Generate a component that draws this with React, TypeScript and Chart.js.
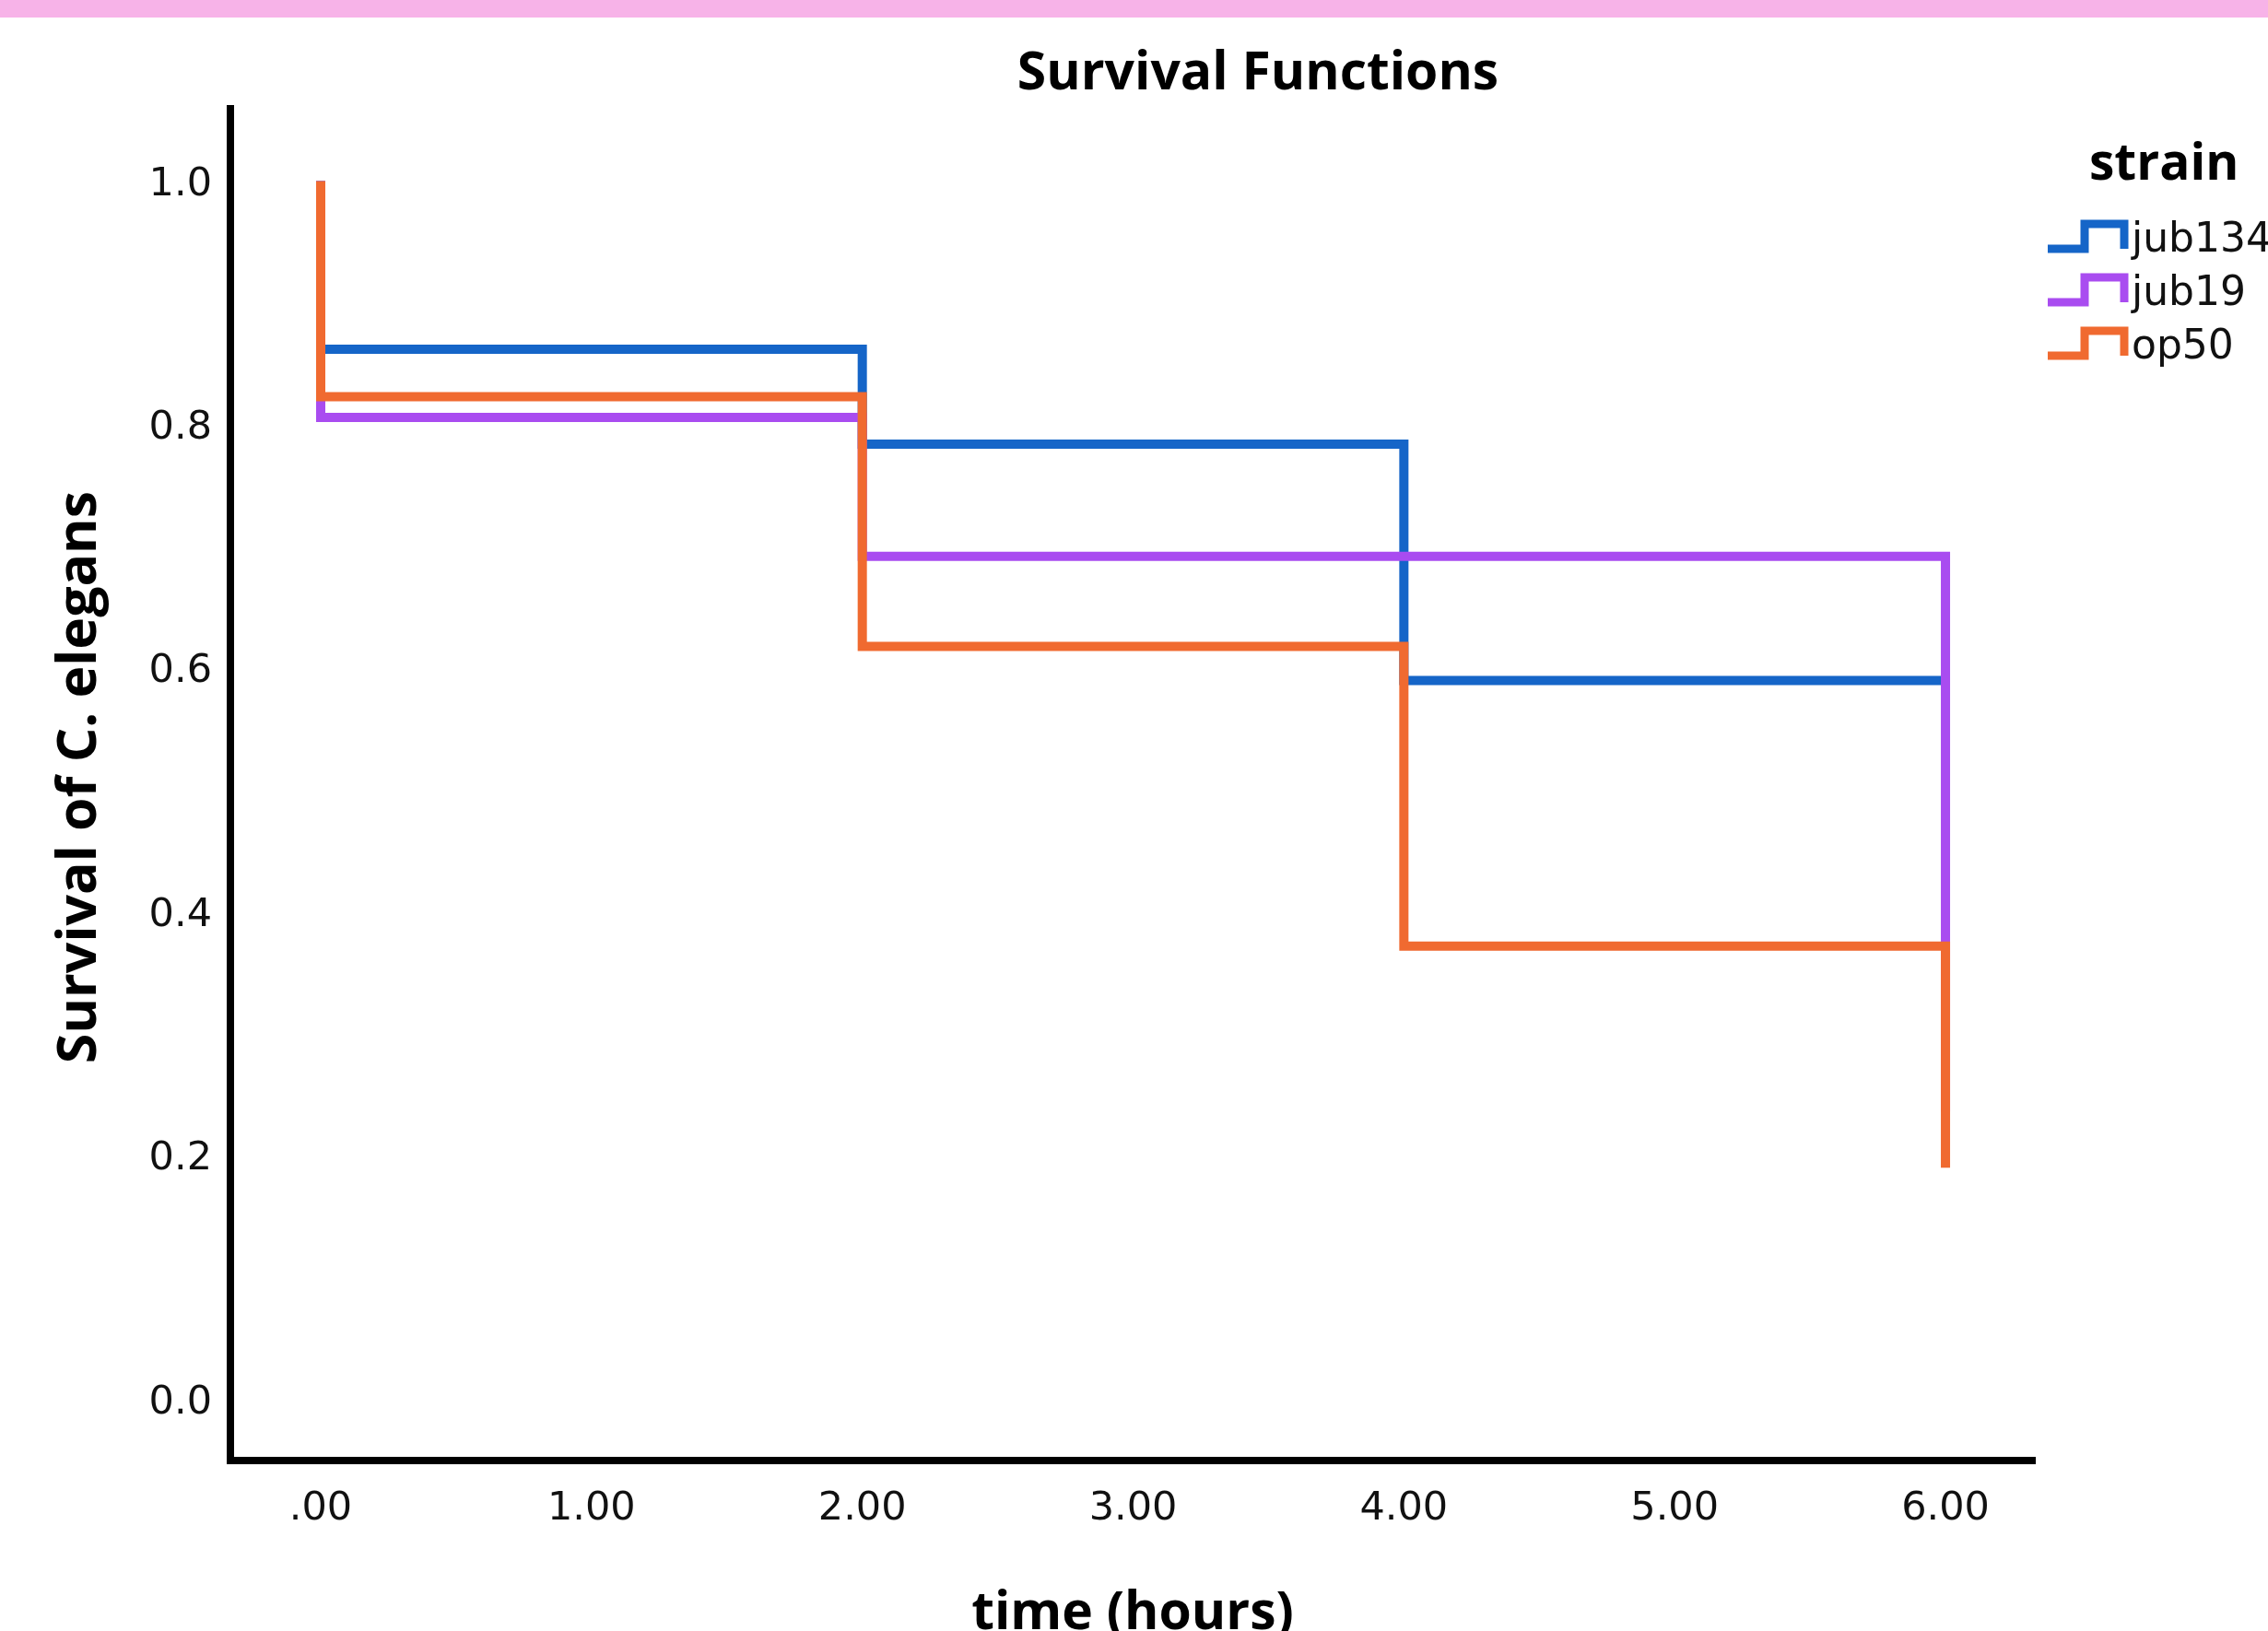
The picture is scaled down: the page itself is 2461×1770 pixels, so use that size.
import React, { useEffect, useRef } from "react";
import { Chart, registerables } from "chart.js";

Chart.register(...registerables);

// ---- data ----
const strains = ["jub134", "jub19", "op50"];
const eventTimes = [0, 2, 4, 6];
const jub134Survival = [0.862, 0.784, 0.59, 0.59];
const jub19Survival = [0.806, 0.692, 0.692, 0.236];
const op50Survival = [0.823, 0.618, 0.372, 0.19];
const strainColors = ["#1565C8", "#A94CF0", "#F06A30"];

const xTickValues = [0, 1, 2, 3, 4, 5, 6];
const xTickLabels = [".00", "1.00", "2.00", "3.00", "4.00", "5.00", "6.00"];
const yTickValues = [0, 0.2, 0.4, 0.6, 0.8, 1.0];
const yTickLabels = ["0.0", "0.2", "0.4", "0.6", "0.8", "1.0"];

const chartTitle = "Survival Functions";
const xAxisTitle = "time (hours)";
const yAxisTitle = "Survival of C. elegans";
const legendTitle = "strain";

const W = 2461;
const H = 1770;

function stepPoints(times: number[], surv: number[]) {
  let prev = 1;
  const pts: { x: number; y: number }[] = [{ x: times[0], y: 1 }];
  for (let i = 0; i < times.length; i++) {
    pts.push({ x: times[i], y: prev });
    pts.push({ x: times[i], y: surv[i] });
    prev = surv[i];
  }
  return pts;
}

const seriesValues = [jub134Survival, jub19Survival, op50Survival];

const BOLD = '"Open Sans", "DejaVu Sans", sans-serif';
const REG = '"DejaVu Sans", sans-serif';

const textPlugin = {
  id: "spssText",
  afterDraw(chart: any) {
    const ctx = chart.ctx as CanvasRenderingContext2D;
    const area = chart.chartArea;
    ctx.save();
    ctx.fillStyle = "#000";
    // chart title
    ctx.font = `bold 57px ${BOLD}`;
    ctx.textAlign = "center";
    ctx.textBaseline = "alphabetic";
    ctx.fillText(chartTitle, 1365, 97);
    // x axis title
    ctx.fillText(xAxisTitle, (area.left + area.right) / 2, 1768);
    // y axis title
    ctx.save();
    ctx.font = `bold 59px ${BOLD}`;
    ctx.translate(104, (area.top + area.bottom) / 2 - 8);
    ctx.rotate(-Math.PI / 2);
    ctx.fillText(yAxisTitle, 0, 0);
    ctx.restore();
    // legend
    ctx.textAlign = "left";
    ctx.font = `bold 55px ${BOLD}`;
    ctx.fillText(legendTitle, 2267, 195);
    ctx.font = `44px ${REG}`;
    chart.data.datasets.forEach((ds: any, i: number) => {
      const yLow = 270 + i * 58;
      const yHigh = yLow - 27;
      ctx.strokeStyle = ds.borderColor;
      ctx.lineWidth = 9;
      ctx.lineJoin = "miter";
      ctx.lineCap = "butt";
      ctx.beginPath();
      ctx.moveTo(2222, yLow);
      ctx.lineTo(2262, yLow);
      ctx.lineTo(2262, yHigh);
      ctx.lineTo(2305, yHigh);
      ctx.lineTo(2305, yLow);
      ctx.stroke();
      ctx.fillStyle = "#111";
      ctx.fillText(ds.label, 2313, yLow + 3);
    });
    ctx.restore();
  },
};

export default function App() {
  const ref = useRef<HTMLCanvasElement | null>(null);

  useEffect(() => {
    if (!ref.current) return;
    const datasets = strains.map((name, i) => ({
      label: name,
      data: stepPoints(eventTimes, seriesValues[i]),
      borderColor: strainColors[i],
      backgroundColor: strainColors[i],
      borderWidth: 10,
      pointRadius: 0,
      pointHoverRadius: 0,
      fill: false,
      tension: 0,
      order: strains.length - 1 - i,
    }));

    const chart = new Chart(ref.current, {
      type: "line",
      data: { datasets },
      options: {
        animation: false,
        responsive: false,
        maintainAspectRatio: false,
        parsing: false,
        events: [],
        layout: { padding: { top: 118, left: 0, right: 253, bottom: 0 } },
        plugins: {
          legend: { display: false },
          title: { display: false },
          tooltip: { enabled: false },
        },
        scales: {
          x: {
            type: "linear",
            min: -0.3335,
            max: 6.33,
            grid: { display: false, drawTicks: false, tickLength: 0 },
            border: { display: true, color: "#000", width: 8 },
            afterBuildTicks: (scale: any) => {
              scale.ticks = xTickValues.map((v) => ({ value: v }));
            },
            afterFit: (scale: any) => {
              scale.height = H - 1585;
            },
            ticks: {
              includeBounds: false,
              autoSkip: false,
              maxRotation: 0,
              padding: 27,
              color: "#111",
              font: { family: REG, size: 43 },
              callback: (value: any) => {
                const idx = xTickValues.findIndex((v) => Math.abs(v - Number(value)) < 1e-6);
                return idx >= 0 ? xTickLabels[idx] : "";
              },
            },
          },
          y: {
            type: "linear",
            min: -0.0503,
            max: 1.0594,
            grid: { display: false, drawTicks: false, tickLength: 0 },
            border: { display: true, color: "#000", width: 8 },
            afterBuildTicks: (scale: any) => {
              scale.ticks = yTickValues.map((v) => ({ value: v }));
            },
            afterFit: (scale: any) => {
              scale.width = 250;
            },
            ticks: {
              includeBounds: false,
              autoSkip: false,
              padding: 20,
              labelOffset: 4,
              color: "#111",
              font: { family: REG, size: 43 },
              callback: (value: any) => {
                const idx = yTickValues.findIndex((v) => Math.abs(v - Number(value)) < 1e-6);
                return idx >= 0 ? yTickLabels[idx] : "";
              },
            },
          },
        },
      },
      plugins: [textPlugin],
    } as any);

    return () => chart.destroy();
  }, []);

  return (
    <div
      style={{
        position: "fixed",
        left: 0,
        top: 0,
        width: W,
        height: H,
        background: "#fff",
        overflow: "hidden",
      }}
    >
      <canvas
        ref={ref}
        width={W}
        height={H}
        style={{ position: "absolute", left: 0, top: 0, width: W, height: H }}
      />
      <div
        style={{
          position: "absolute",
          left: 0,
          top: 0,
          width: W,
          height: 19,
          background: "#F7B3E8",
        }}
      />
    </div>
  );
}
